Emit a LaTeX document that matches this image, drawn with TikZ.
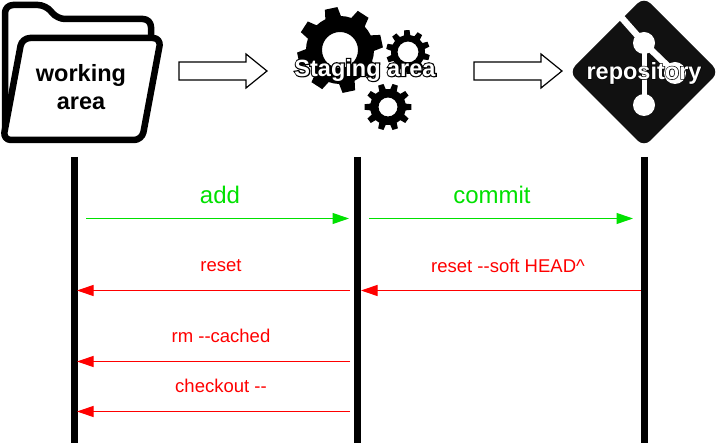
\documentclass[tikz,border=0pt]{standalone}
\usepackage{fontspec}
\setmainfont{Liberation Sans}
\usetikzlibrary{arrows.meta}
\definecolor{arrgreen}{RGB}{0,225,0}
\definecolor{arrred}{RGB}{255,0,0}
\definecolor{gitdark}{RGB}{17,17,17}
\newcommand{\gearshape}[7]{% cx cy outer base hole teeth rot
  \begin{scope}[shift={(#1,#2)}]
    \pgfmathsetmacro{\gstep}{360/#6}
    \pgfmathsetmacro{\glast}{#6-1}
    \fill[black,even odd rule] (#7-0.30*\gstep:#4)
      \foreach \gi in {0,...,\glast}{
        -- ({#7+\gi*\gstep-0.30*\gstep}:#4)
        -- ({#7+\gi*\gstep-0.19*\gstep}:#3)
        -- ({#7+\gi*\gstep+0.19*\gstep}:#3)
        -- ({#7+\gi*\gstep+0.30*\gstep}:#4)
        arc[start angle={#7+\gi*\gstep+0.30*\gstep},delta angle={0.4*\gstep},radius=#4]
      } -- cycle (0,0) circle[radius=#5];
  \end{scope}}
\newcommand{\outlined}[2]{\rlap{\special{pdf:code q #1 w 0 0 0 RG 1 Tr}#2\special{pdf:code Q}}#2}
\tikzset{
  x=1pt,y=-1pt,
  lifeline/.style={line width=7pt,black},
  folderline/.style={line width=6.5pt,black,line join=round,rounded corners=8pt},
  blockarrow/.style={draw=black,fill=white,line width=1.2pt,line join=miter},
  greenarrow/.style={draw=arrgreen,line width=1pt,-{Triangle[length=16.5pt,width=11pt,fill=arrgreen]}},
  redarrow/.style={draw=arrred,line width=1pt,-{Triangle[length=16.5pt,width=11pt,fill=arrred]}},
  bigtitle/.style={font=\fontsize{23.5}{27}\selectfont\bfseries,align=center,inner sep=0pt},
  biglabel/.style={font=\fontsize{24}{27}\selectfont,text=arrgreen,inner sep=0pt},
  smalllabel/.style={font=\fontsize{18.5}{22}\selectfont,text=arrred,inner sep=0pt},
}
\begin{document}
\begin{tikzpicture}
\useasboundingbox (0,0) rectangle (716,443);
% folder
\draw[folderline] (5,134) -- (5,5) -- (46,5) -- (57,19) -- (151,19) -- (151,38);
\draw[folderline,fill=white] (22,38) -- (161,38) -- (142,140) -- (3,140) -- cycle;
\node[bigtitle] (working) at (81,87) {working\\[1pt]area};
% block arrows
\draw[blockarrow] (179,62) -- (246,62) -- (246,54) -- (267,71) -- (246,88) -- (246,80) -- (179,80) -- cycle;
\draw[blockarrow] (474,62) -- (541,62) -- (541,54) -- (562,71) -- (541,88) -- (541,80) -- (474,80) -- cycle;
% gears
\gearshape{340}{50}{43}{34}{18}{8}{33}
\gearshape{408}{52}{22}{17}{10.5}{10}{15}
\gearshape{388}{107}{23.5}{18}{9.5}{10}{0}
\node[bigtitle,text=white] (staging) at (365,70) {\outlined{2.4}{Staging area}};
% git logo
\fill[gitdark,rounded corners=9pt] (644,-3) -- (719,72) -- (644,147) -- (569,72) -- cycle;
\draw[white,line width=6.5pt] (621,17) -- (644,43) -- (675,73);
\draw[white,line width=5pt] (644,43) -- (644,105);
\fill[white] (644,43) circle[radius=11] (675,73) circle[radius=11] (644,105) circle[radius=11];
\node[bigtitle,text=white] (repo) at (644,73) {\outlined{1.2}{repository}};
% lifelines
\coordinate (wtop) at (74,157); \coordinate (wbot) at (74,443);
\coordinate (stop) at (357,157); \coordinate (sbot) at (357,443);
\coordinate (rtop) at (644,157); \coordinate (rbot) at (644,443);
\draw[lifeline] (wtop) -- (wbot);
\draw[lifeline] (stop) -- (sbot);
\draw[lifeline] (rtop) -- (rbot);
% arrow end points
\coordinate (a1) at (86,218.5); \coordinate (a2) at (349,218.5);
\coordinate (c1) at (369,218.5); \coordinate (c2) at (633,218.5);
\coordinate (r1) at (350,290.5); \coordinate (r2) at (77,290.5);
\coordinate (s1) at (641,290.5); \coordinate (s2) at (361,290.5);
\coordinate (m1) at (350,361.5); \coordinate (m2) at (77,361.5);
\coordinate (k1) at (350,411.5); \coordinate (k2) at (77,411.5);
\draw[greenarrow] (a1) -- (a2);
\draw[greenarrow] (c1) -- (c2);
\draw[redarrow] (r1) -- (r2);
\draw[redarrow] (s1) -- (s2);
\draw[redarrow] (m1) -- (m2);
\draw[redarrow] (k1) -- (k2);
% labels
\node[biglabel] (ladd) at (220,195) {add};
\node[biglabel] (lcommit) at (492,195) {commit};
\node[smalllabel] (lreset) at (221,266) {reset};
\node[smalllabel] (lsoft) at (508,266) {reset -{}-soft HEAD\^{}};
\node[smalllabel] (lrm) at (221,336) {rm -{}-cached};
\node[smalllabel] (lco) at (221,386) {checkout -{}-};
\end{tikzpicture}
\end{document}
